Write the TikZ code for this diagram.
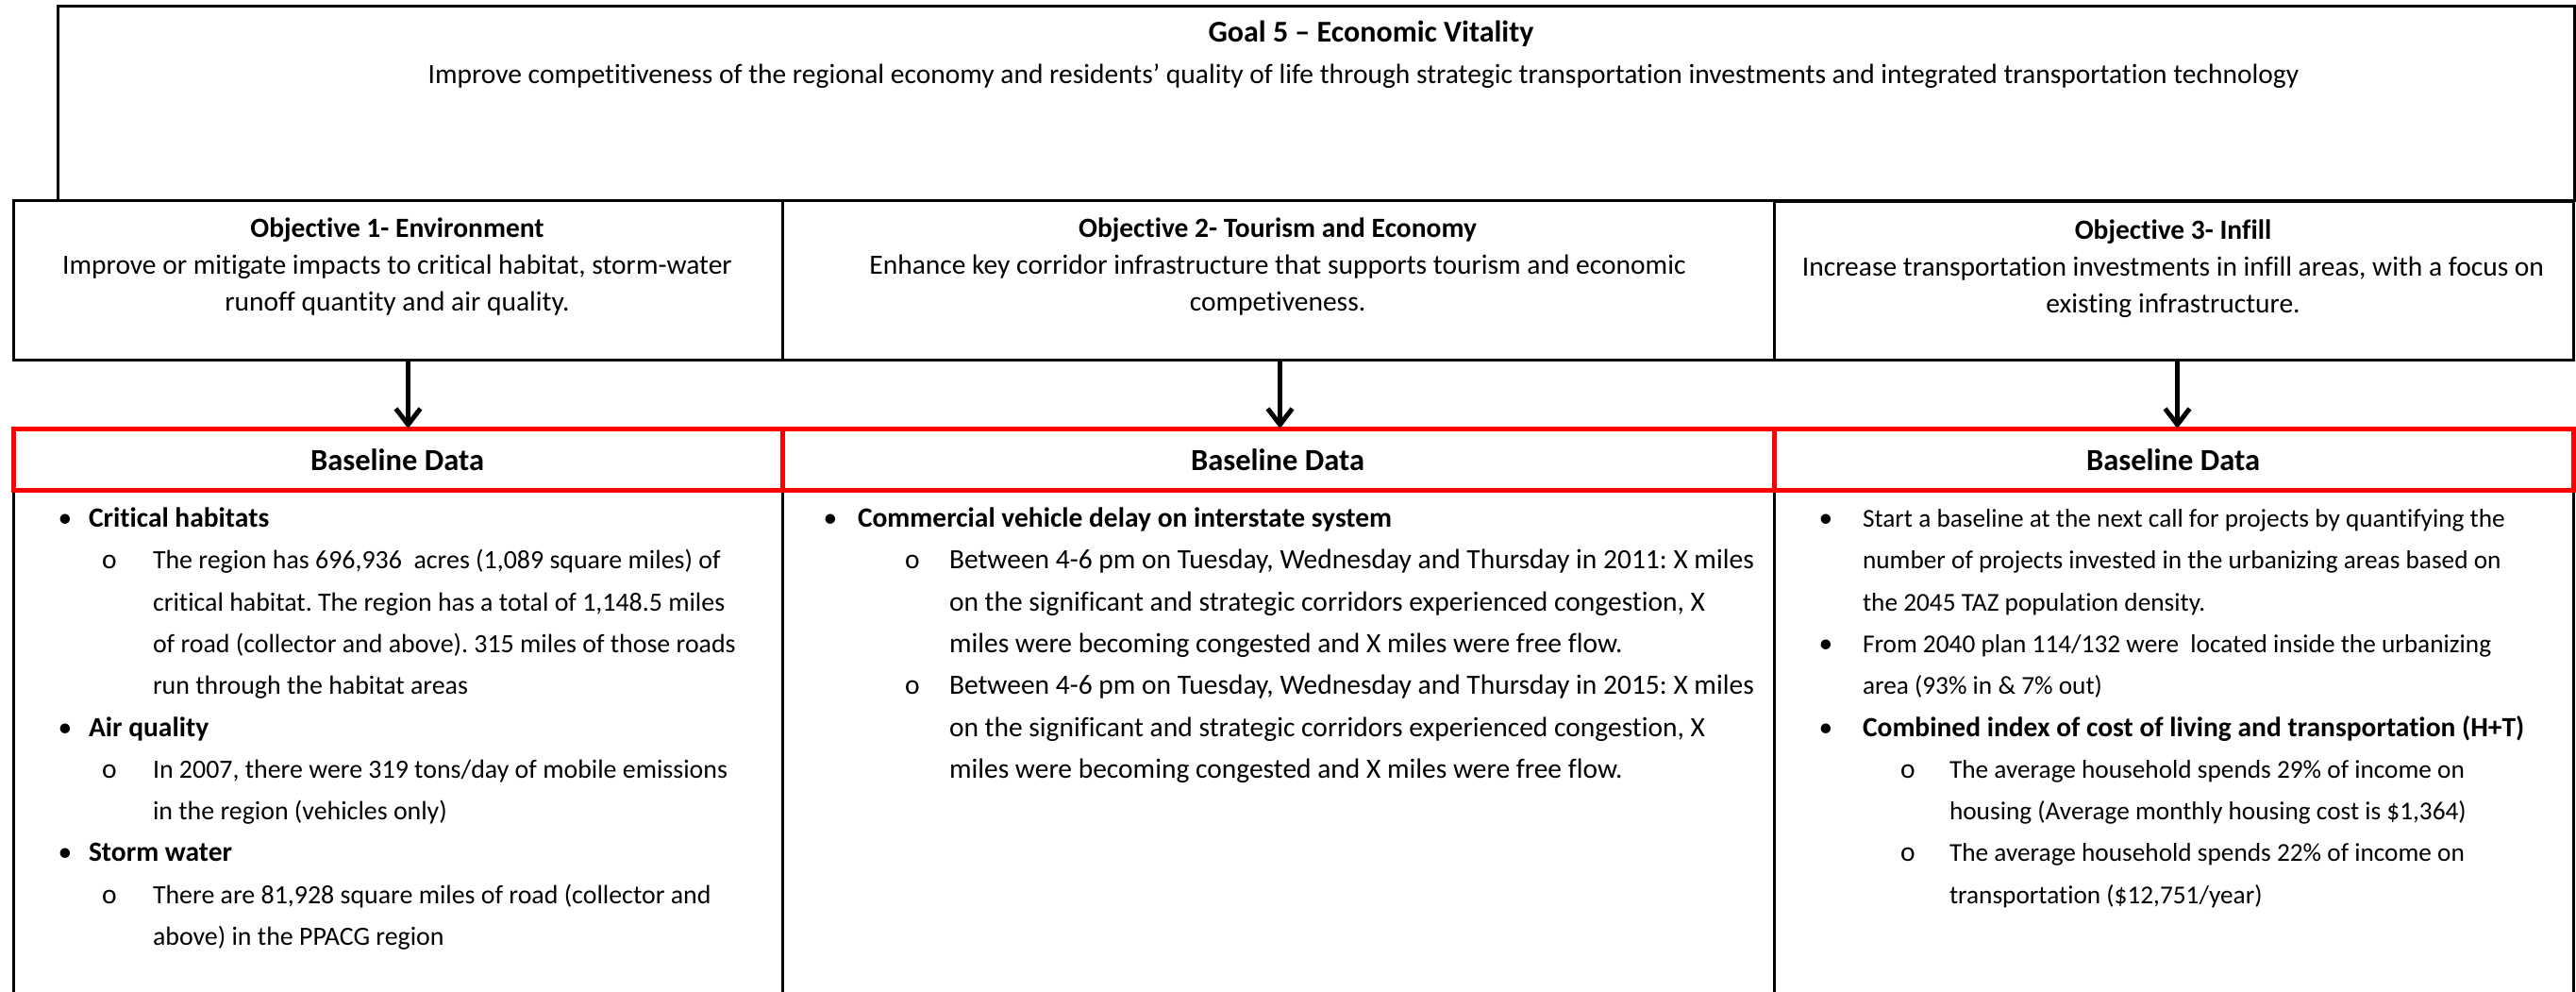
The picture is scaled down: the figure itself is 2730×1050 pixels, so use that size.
\documentclass[tikz,border=0pt]{standalone}
\usepackage{fontspec}
\setmainfont{Carlito}[Ligatures={NoCommon}]
\usetikzlibrary{arrows.meta}
\frenchspacing
\begin{document}
\begin{tikzpicture}[x=1pt,y=-1pt,
  every node/.style={inner sep=0pt,outer sep=0pt},
  txt/.style={font=\fontsize{29.5}{35}\selectfont,anchor=base west},
  txtc/.style={font=\fontsize{29.5}{35}\selectfont,anchor=base},
  small/.style={font=\fontsize{27.9}{33}\selectfont,anchor=base west},
  smaller/.style={font=\fontsize{27.3}{33}\selectfont,anchor=base west},
  bold/.style={font=\fontsize{29.5}{35}\selectfont\bfseries},
  title/.style={font=\fontsize{32}{38}\selectfont\bfseries,anchor=base},
  head/.style={font=\fontsize{32.5}{38}\selectfont\bfseries,anchor=base},
  blackbox/.style={draw=black,line width=3pt,anchor=north west},
  redbox/.style={draw=red,line width=5pt,anchor=north west},
  arr/.style={draw=black,line width=5pt,-{Straight Barb[length=17pt,width=26pt]}},
  dot/.style={font=\fontsize{29.5}{35}\selectfont,anchor=base},
]
\clip (0,0) rectangle (2730,1050);
\fill[white] (0,0) rectangle (2730,1050);

% goal box
\node[blackbox,minimum width=2667pt,minimum height=206pt] (goal) at (61,6) {};
\node[title] (goaltitle) at (1453,44) {Goal 5 – Economic Vitality};
\node[txtc] (goaltext) at (1445,88) {Improve competitiveness of the regional economy and residents’ quality of life through strategic transportation investments and integrated transportation technology};

% objective boxes
\node[blackbox,minimum width=815pt,minimum height=169pt] (obj1) at (14,212) {};
\node[blackbox,minimum width=1051pt,minimum height=169pt] (obj2) at (829,212) {};
\node[blackbox,minimum width=847pt,minimum height=168pt] (obj3) at (1880,213) {};

\node[txtc,bold,anchor=base] (o1t) at (421,251) {Objective 1- Environment};
\node[txtc] (o1a) at (421,290) {Improve or mitigate impacts to critical habitat, storm-water};
\node[txtc] (o1b) at (421,329) {runoff quantity and air quality.};

\node[txtc,bold,anchor=base] (o2t) at (1354,251) {Objective 2- Tourism and Economy};
\node[txtc] (o2a) at (1354,290) {Enhance key corridor infrastructure that supports tourism and economic};
\node[txtc] (o2b) at (1354,329) {competiveness.};

\node[txtc,bold,anchor=base] (o3t) at (2303,253) {Objective 3- Infill};
\node[txtc] (o3a) at (2303,292) {Increase transportation investments in infill areas, with a focus on};
\node[txtc] (o3b) at (2303,331) {existing infrastructure.};

% data boxes (open at the bottom of the page)
\node[blackbox,minimum width=815pt,minimum height=600pt] (data1) at (14,519) {};
\node[blackbox,minimum width=1051pt,minimum height=600pt] (data2) at (829,519) {};
\node[blackbox,minimum width=847pt,minimum height=600pt] (data3) at (1880,519) {};

% baseline headers
\node[redbox,minimum width=815pt,minimum height=65pt] (base1) at (14,454) {};
\node[redbox,minimum width=1051pt,minimum height=65pt] (base2) at (829,454) {};
\node[redbox,minimum width=847pt,minimum height=65pt] (base3) at (1880,454) {};
\node[head] (b1t) at (421,498) {Baseline Data};
\node[head] (b2t) at (1354,498) {Baseline Data};
\node[head] (b3t) at (2303,498) {Baseline Data};

% connectors
\draw[arr] ([xshift=11pt]obj1.south) -- ([xshift=11pt]base1.north);
\draw[arr] ([xshift=2pt]obj2.south) -- ([xshift=2pt]base2.north);
\draw[arr] ([xshift=4pt]obj3.south) -- ([xshift=4pt]base3.north);

% column 1 content
\node[dot] (c1d0) at (69,558) {•};
\node[txt,bold] (c1l0) at (94,558) {Critical habitats};
\node[dot] (c1s1) at (116,602) {o};
\node[small] (c1l1) at (162,602) {The region has 696,936~ acres (1,089 square miles) of};
\node[small] (c1l2) at (162,647) {critical habitat. The region has a total of 1,148.5 miles};
\node[small] (c1l3) at (162,691) {of road (collector and above). 315 miles of those roads};
\node[small] (c1l4) at (162,735) {run through the habitat areas};
\node[dot] (c1d5) at (69,780) {•};
\node[txt,bold] (c1l5) at (94,780) {Air quality};
\node[dot] (c1s6) at (116,824) {o};
\node[small] (c1l6) at (162,824) {In 2007, there were 319 tons/day of mobile emissions};
\node[small] (c1l7) at (162,868) {in the region (vehicles only)};
\node[dot] (c1d8) at (69,912) {•};
\node[txt,bold] (c1l8) at (94,912) {Storm water};
\node[dot] (c1s9) at (116,957) {o};
\node[small] (c1l9) at (162,957) {There are 81,928 square miles of road (collector and};
\node[small] (c1l10) at (162,1001) {above) in the PPACG region};

% column 2 content
\node[dot] (c2d0) at (880,558) {•};
\node[txt,bold] (c2l0) at (909,558) {Commercial vehicle delay on interstate system};
\node[dot] (c2s1) at (967,602) {o};
\node[txt] (c2l1) at (1006,602) {Between 4-6 pm on Tuesday, Wednesday and Thursday in 2011: X miles};
\node[txt] (c2l2) at (1006,647) {on the significant and strategic corridors experienced congestion, X};
\node[txt] (c2l3) at (1006,691) {miles were becoming congested and X miles were free flow.};
\node[dot] (c2s4) at (967,735) {o};
\node[txt] (c2l4) at (1006,735) {Between 4-6 pm on Tuesday, Wednesday and Thursday in 2015: X miles};
\node[txt] (c2l5) at (1006,780) {on the significant and strategic corridors experienced congestion, X};
\node[txt] (c2l6) at (1006,824) {miles were becoming congested and X miles were free flow.};

% column 3 content
\node[dot] (c3d0) at (1935,558) {•};
\node[smaller] (c3l0) at (1974,558) {Start a baseline at the next call for projects by quantifying the};
\node[smaller] (c3l1) at (1974,602) {number of projects invested in the urbanizing areas based on};
\node[smaller] (c3l2) at (1974,647) {the 2045 TAZ population density.};
\node[dot] (c3d3) at (1935,691) {•};
\node[smaller] (c3l3) at (1974,691) {From 2040 plan 114/132 were~ located inside the urbanizing};
\node[smaller] (c3l4) at (1974,735) {area (93\% in \& 7\% out)};
\node[dot] (c3d5) at (1935,780) {•};
\node[txt,bold] (c3l5) at (1974,780) {Combined index of cost of living and transportation (H+T)};
\node[dot] (c3s6) at (2022,824) {o};
\node[smaller] (c3l6) at (2066,824) {The average household spends 29\% of income on};
\node[smaller] (c3l7) at (2066,868) {housing (Average monthly housing cost is \$1,364)};
\node[dot] (c3s8) at (2022,912) {o};
\node[smaller] (c3l8) at (2066,912) {The average household spends 22\% of income on};
\node[smaller] (c3l9) at (2066,957) {transportation (\$12,751/year)};
\end{tikzpicture}
\end{document}
